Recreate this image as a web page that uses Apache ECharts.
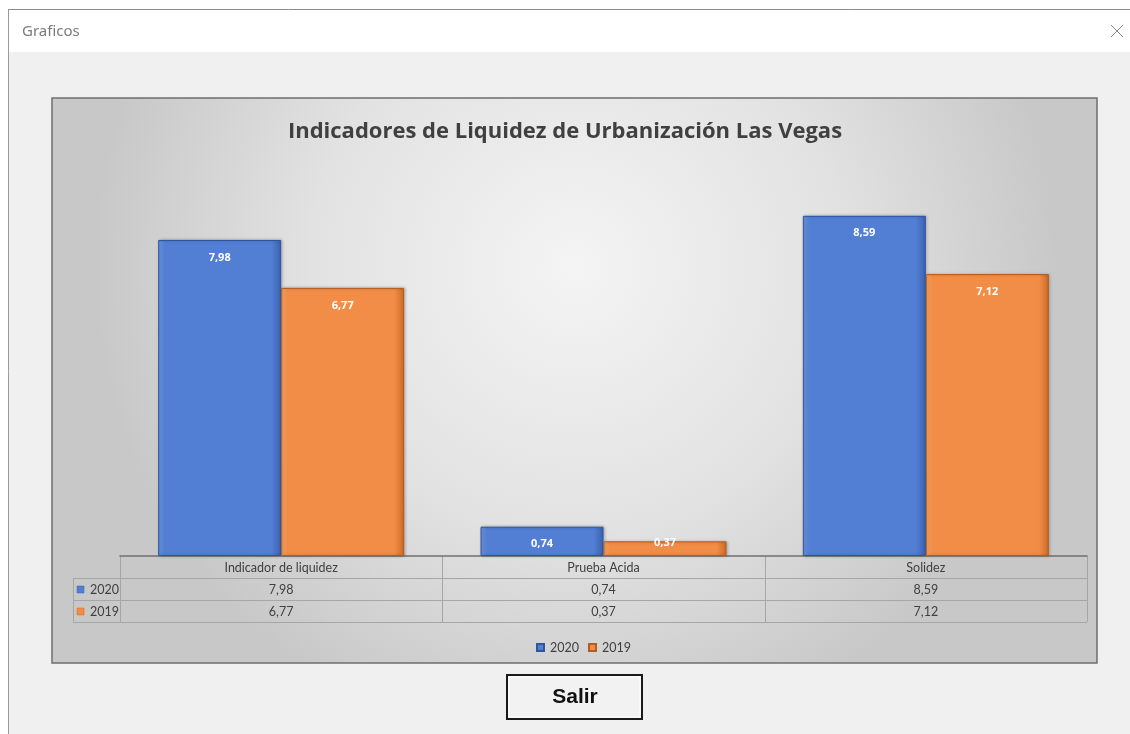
<!DOCTYPE html>
<html>
<head>
<meta charset="utf-8">
<title>Graficos</title>
<script src="https://cdn.jsdelivr.net/npm/echarts@6/dist/echarts.min.js"></script>
<style>
  html, body { margin: 0; padding: 0; background: #ffffff; }
  #chart { width: 1130px; height: 734px; }
</style>
</head>
<body>
<div id="chart"></div>
<script>
// Indicator names (columns of the data table)
const categories = ['Indicador de liquidez', 'Prueba Acida', 'Solidez'];
// Series names
const seriesNames = ['2020', '2019'];
// Values per year
const values2020 = [7.98, 0.74, 8.59];
const values2019 = [6.77, 0.37, 7.12];
const chartTitle = 'Indicadores de Liquidez de Urbanización Las Vegas';
const windowTitle = 'Graficos';
const buttonText = 'Salir';

const fmt = v => v.toFixed(2).replace('.', ',');

// Layout of the chart frame and plot
const W = 1130, H = 734;
const frame = { x: 52, y: 98, w: 1045, h: 565 };
const plot = { left: 120, right: 1087, top: 160, bottom: 556 };
const tableRowH = 22;
const labelColLeft = 73;

const blue = { light: '#7099e0', mid: '#527fd4', dark: '#3a62b0', border: '#2f54a0' };
const orange = { light: '#f9a867', mid: '#f28d47', dark: '#cc6b27', border: '#b45c1e' };

function barStyle(c) {
  return {
    color: {
      type: 'linear', x: 0, y: 0, x2: 1, y2: 0,
      colorStops: [
        { offset: 0, color: c.light },
        { offset: 0.05, color: c.mid },
        { offset: 0.92, color: c.mid },
        { offset: 1, color: c.dark }
      ]
    },
    borderColor: c.border,
    borderWidth: 1,
    shadowColor: 'rgba(0,0,0,0.25)',
    shadowBlur: 3,
    shadowOffsetX: 1,
    shadowOffsetY: 0
  };
}

// Value labels sit just inside the bar top; very short bars get them pulled up onto the bar
function barData(values) {
  return values.map(v => v < 0.5
    ? { value: v, label: { distance: 0, offset: [0, -4] } }
    : { value: v });
}

// Data table built from the same arrays as the bars
function buildTable() {
  const els = [];
  const colW = (plot.right - plot.left) / categories.length;
  const lineColor = '#a6a6a6';
  const textColor = '#404040';
  const font = '12.5px Lato';
  const y0 = plot.bottom, y1 = y0 + tableRowH, y2 = y1 + tableRowH, y3 = y2 + tableRowH;
  const hline = (x1, y, x2) => ({ type: 'line', silent: true, shape: { x1, y1: y, x2, y2: y }, style: { stroke: lineColor, lineWidth: 1 } });
  const vline = (x, ya, yb) => ({ type: 'line', silent: true, shape: { x1: x, y1: ya, x2: x, y2: yb }, style: { stroke: lineColor, lineWidth: 1 } });
  els.push(hline(labelColLeft, y1 + 0.5, plot.right));
  els.push(hline(labelColLeft, y2 + 0.5, plot.right));
  els.push(hline(labelColLeft, y3 + 0.5, plot.right));
  els.push(vline(labelColLeft + 0.5, y1, y3));
  for (let i = 0; i <= categories.length; i++) {
    els.push(vline(Math.round(plot.left + i * colW) + 0.5, y0, y3));
  }
  const rows = [values2020, values2019];
  categories.forEach((c, i) => {
    const cx = plot.left + (i + 0.5) * colW;
    els.push({ type: 'text', silent: true, x: cx, y: y0 + tableRowH / 2 + 1,
      style: { text: c, font, fill: textColor, align: 'center', verticalAlign: 'middle' } });
    rows.forEach((r, k) => {
      els.push({ type: 'text', silent: true, x: cx, y: y0 + (k + 1.5) * tableRowH + 1,
        style: { text: fmt(r[i]), font, fill: textColor, align: 'center', verticalAlign: 'middle' } });
    });
  });
  const keyColors = [blue, orange];
  seriesNames.forEach((n, k) => {
    const cy = y0 + (k + 1.5) * tableRowH + 1;
    els.push({ type: 'rect', silent: true, shape: { x: labelColLeft + 4, y: cy - 4, width: 7, height: 7 },
      style: { fill: keyColors[k].mid, stroke: keyColors[k].dark, lineWidth: 0.5 } });
    els.push({ type: 'text', silent: true, x: labelColLeft + 17, y: cy,
      style: { text: n, font, fill: textColor, align: 'left', verticalAlign: 'middle' } });
  });
  return els;
}

const chart = echarts.init(document.getElementById('chart'), null, { renderer: 'canvas' });

const graphics = [
  // window and title bar
  { type: 'rect', silent: true, z: -20, shape: { x: 0, y: 0, width: W, height: H }, style: { fill: '#ffffff' } },
  { type: 'rect', silent: true, z: -19, shape: { x: 8, y: 52, width: W - 8, height: H - 52 }, style: { fill: '#f0f0f0' } },
  { type: 'line', silent: true, z: -18, shape: { x1: 8, y1: 9.5, x2: W, y2: 9.5 }, style: { stroke: '#8c8c8c', lineWidth: 1 } },
  { type: 'line', silent: true, z: -18, shape: { x1: 8.5, y1: 9, x2: 8.5, y2: H }, style: { stroke: '#9a9a9a', lineWidth: 1 } },
  { type: 'text', silent: true, x: 22, y: 32, style: { text: windowTitle, font: '15px "Noto Sans"', fill: '#7a7a7a', verticalAlign: 'middle' } },
  // close glyph
  { type: 'line', silent: true, shape: { x1: 1111, y1: 25, x2: 1123, y2: 37 }, style: { stroke: '#8a8a8a', lineWidth: 1 } },
  { type: 'line', silent: true, shape: { x1: 1123, y1: 25, x2: 1111, y2: 37 }, style: { stroke: '#8a8a8a', lineWidth: 1 } },
  // chart frame with radial shading
  { type: 'rect', silent: true, z: -15, shape: { x: frame.x, y: frame.y, width: frame.w, height: frame.h },
    style: {
      fill: { type: 'radial', x: 0.5, y: 0.3, r: 0.85,
        colorStops: [ { offset: 0, color: '#f4f4f4' }, { offset: 0.55, color: '#e2e2e2' }, { offset: 1, color: '#c8c8c8' } ] },
      stroke: '#6e6e6e', lineWidth: 1.5
    } },
  // exit button
  { type: 'rect', silent: true, shape: { x: 507, y: 675, width: 135, height: 44 },
    style: { fill: '#f2f2f2', stroke: '#1a1a1a', lineWidth: 2 } },
  { type: 'rect', silent: true, shape: { x: 509, y: 677, width: 131, height: 40 },
    style: { fill: 'none', stroke: '#ffffff', lineWidth: 1 } },
  { type: 'text', silent: true, x: 575, y: 697, style: { text: buttonText, font: 'bold 21px "Liberation Sans"', fill: '#111111', align: 'center', verticalAlign: 'middle' } }
].concat(buildTable());

const labelStyle = {
  show: true, position: 'insideTop', distance: 12, formatter: p => fmt(p.value),
  color: '#ffffff', fontFamily: 'Open Sans', fontWeight: 'bold', fontSize: 11
};

chart.setOption({
  animation: false,
  backgroundColor: 'transparent',
  title: {
    text: chartTitle,
    left: 'center',
    top: 116,
    textStyle: { fontFamily: 'Open Sans', fontWeight: 'bold', fontSize: 22, color: '#404040' }
  },
  legend: {
    data: seriesNames,
    left: 531,
    top: 636,
    itemWidth: 7,
    itemHeight: 7,
    itemGap: 9,
    icon: 'rect',
    textStyle: { fontFamily: 'Lato', fontSize: 12.5, color: '#404040', padding: [0, 0, 0, 1] }
  },
  grid: { left: plot.left, right: W - plot.right, top: plot.top, bottom: H - plot.bottom, containLabel: false },
  xAxis: {
    type: 'category',
    data: categories,
    axisLine: { show: true, lineStyle: { color: '#707070', width: 1.5 } },
    axisTick: { show: false },
    axisLabel: { show: false }
  },
  yAxis: {
    type: 'value', min: 0, max: 10, interval: 2,
    show: false,
    splitLine: { show: false }
  },
  graphic: { elements: graphics },
  series: [
    {
      name: seriesNames[0], type: 'bar', data: barData(values2020), barWidth: 123, barGap: '0%',
      itemStyle: barStyle(blue), label: labelStyle
    },
    {
      name: seriesNames[1], type: 'bar', data: barData(values2019), barWidth: 123, barGap: '0%',
      itemStyle: barStyle(orange), label: labelStyle
    }
  ]
});
</script>
</body>
</html>
